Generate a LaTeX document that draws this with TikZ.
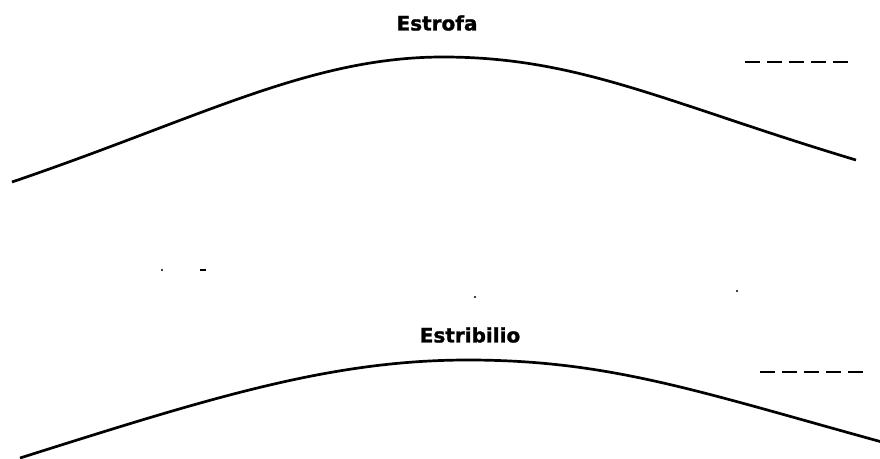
\documentclass[tikz,border=0pt]{standalone}
\usepackage{fontspec}
\setmainfont{DejaVu Sans}
\newfontfamily\heavyfont[FakeBold=1.2]{DejaVu Sans Bold}
\begin{document}
\begin{tikzpicture}[x=1pt,y=-1pt,
	curve/.style={line width=2.7pt},
	dashline/.style={line width=2.7pt,dash pattern=on 15pt off 7pt},
	label/.style={font=\fontsize{20}{24}\heavyfont,inner sep=0pt}]
	\useasboundingbox (0,0) rectangle (880,458);
	% upper curve
	\draw[curve] (12,182) .. controls (200,118) and (310,57) .. (443,57) .. controls (580,57) and (666,103) .. (856,160);
	\node[label] (estrofa) at (437,23) {Estrofa};
	\coordinate (A) at (745,62);
	\draw[dashline] (A) -- +(105,0);
	% lower curve
	\draw[curve] (20,458) .. controls (210,398) and (330,360) .. (468,360) .. controls (610,360) and (700,392) .. (882,442);
	\node[label] (estribilio) at (470,335) {Estribilio};
	\coordinate (B) at (760,372);
	\draw[dashline] (B) -- +(107,0);
	% specks
	\fill (162,270) circle (1.2pt);
	\fill (200,268.8) rectangle (206,271.2);
	\fill (475,297) circle (1.2pt);
	\fill (737,291) circle (1.2pt);
\end{tikzpicture}
\end{document}
